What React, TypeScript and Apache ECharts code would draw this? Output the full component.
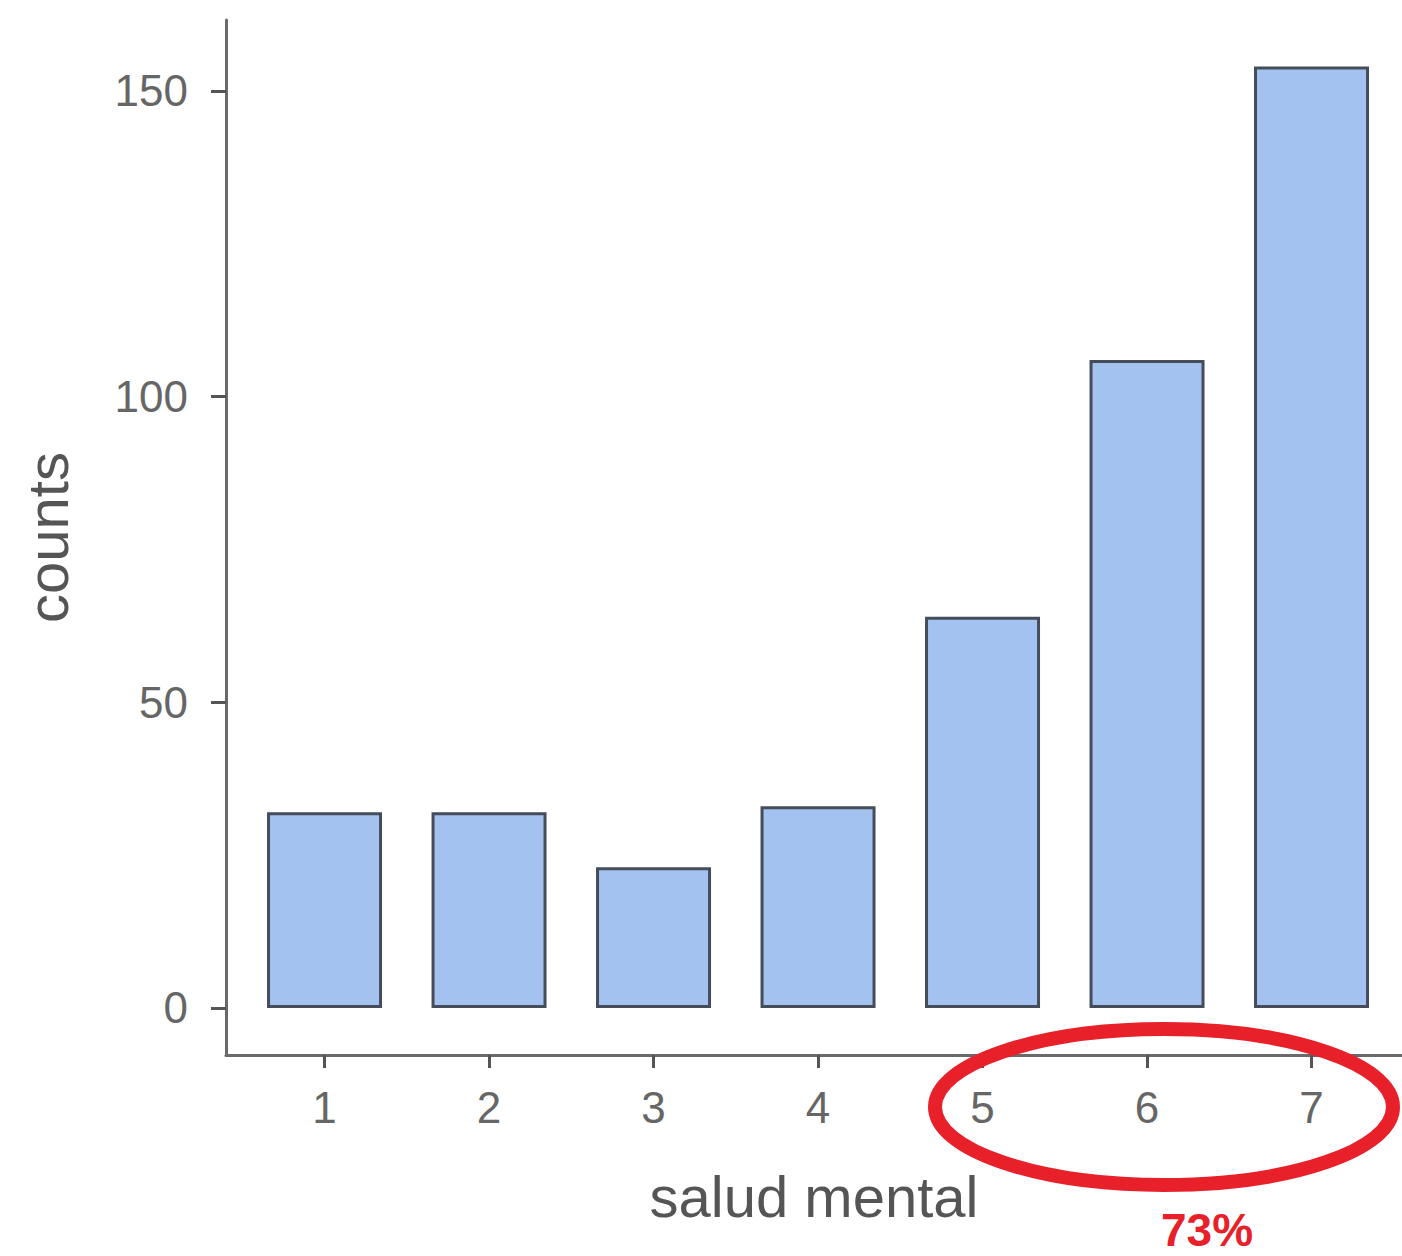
import React, { useEffect, useRef } from "react";
import * as echarts from "echarts";

const categories = [1, 2, 3, 4, 5, 6, 7];
const counts = [32, 32, 23, 33, 64, 106, 154];
const yTicks = [0, 50, 100, 150];
const xTitle = "salud mental";
const yTitle = "counts";
const annotation = "73%";

const FONT = "'Liberation Sans', Arial, sans-serif";

export default function App() {
  const ref = useRef<HTMLDivElement>(null);
  useEffect(() => {
    if (!ref.current) return;
    const chart = echarts.init(ref.current, undefined, { renderer: "svg" });
    const axisColor = "#6a6a6a";
    chart.setOption({
      animation: false,
      backgroundColor: "#ffffff",
      textStyle: { fontFamily: FONT },
      grid: { left: 226, right: 0, top: 20, bottom: 201, containLabel: false },
      xAxis: {
        type: "value",
        min: 0.401,
        max: 7.55,
        axisLine: { show: true, onZero: false, lineStyle: { color: axisColor, width: 3 } },
        axisTick: { show: true, customValues: categories, length: 13, lineStyle: { color: "#555", width: 3 } },
        axisLabel: { customValues: categories, fontSize: 44, color: "#666", margin: 30, fontFamily: FONT },
        splitLine: { show: false },
        name: xTitle,
        nameLocation: "middle",
        nameGap: 112,
        nameTextStyle: { fontSize: 58, color: "#555", fontFamily: FONT },
      },
      yAxis: {
        type: "value",
        min: -7.69,
        max: 161.6,
        axisLine: { show: true, onZero: false, lineStyle: { color: axisColor, width: 3 } },
        axisTick: { show: true, customValues: yTicks, length: 15, lineStyle: { color: "#555", width: 3 } },
        axisLabel: { customValues: yTicks, fontSize: 44, color: "#666", margin: 38, fontFamily: FONT },
        splitLine: { show: false },
        name: yTitle,
        nameLocation: "middle",
        nameGap: 150,
        nameTextStyle: { fontSize: 58, color: "#555", fontFamily: FONT },
      },
      series: [
        {
          type: "bar",
          data: categories.map((c, i) => [c, counts[i]]),
          barWidth: 115,
          itemStyle: { color: "#a3c2ef", borderColor: "#464d5a", borderWidth: 3 },
        },
      ],
      graphic: [
        {
          type: "ellipse",
          shape: { cx: 1164, cy: 1107, rx: 229, ry: 78 },
          style: { fill: "none", stroke: "#e8202a", lineWidth: 14 },
          z: 100,
        },
        {
          type: "text",
          x: 1207,
          y: 1230,
          style: {
            text: annotation,
            fill: "#e8202a",
            font: `bold 46px ${FONT}`,
            align: "center",
            verticalAlign: "middle",
          },
          z: 100,
        },
      ],
    });
    return () => chart.dispose();
  }, []);
  return (
    <div
      ref={ref}
      style={{ position: "absolute", left: 0, top: 0, width: 1402, height: 1256, background: "#fff" }}
    />
  );
}
